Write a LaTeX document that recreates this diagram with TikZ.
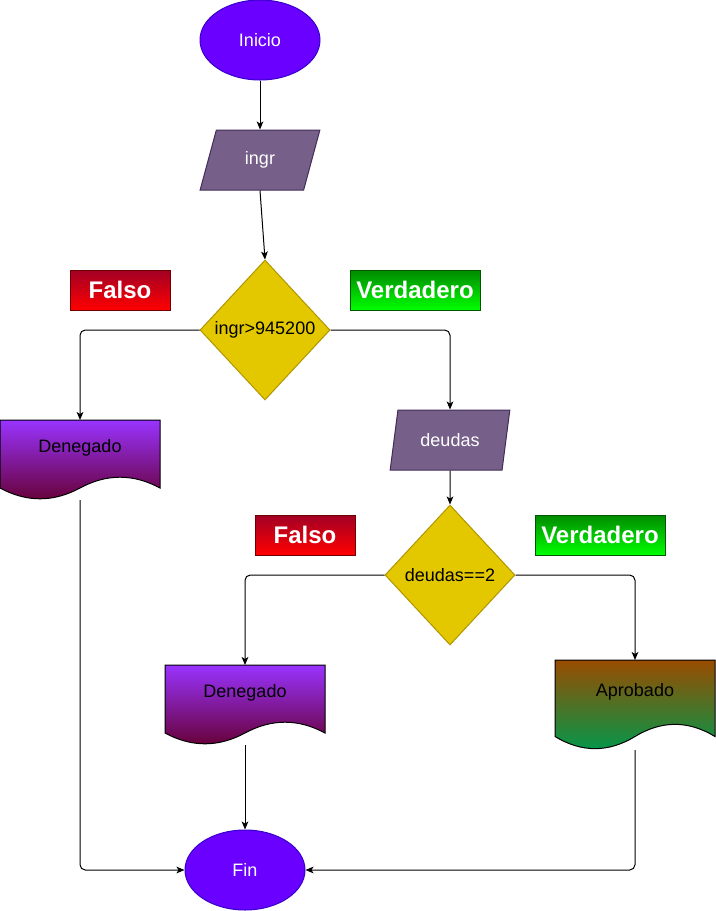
\documentclass[tikz,border=0pt]{standalone}
\usepackage{fontspec}
\setmainfont{Liberation Sans}
\usetikzlibrary{shapes.geometric,arrows.meta}

\definecolor{termfill}{HTML}{6A00FF}
\definecolor{termline}{HTML}{3700CC}
\definecolor{iofill}{HTML}{76608A}
\definecolor{ioline}{HTML}{432D57}
\definecolor{decfill}{HTML}{E3C800}
\definecolor{decline}{HTML}{B09500}
\definecolor{falsetop}{HTML}{A20025}
\definecolor{falsebot}{HTML}{FF0000}
\definecolor{falseline}{HTML}{6F0000}
\definecolor{truetop}{HTML}{008A00}
\definecolor{truebot}{HTML}{00FF00}
\definecolor{trueline}{HTML}{005700}
\definecolor{dentop}{HTML}{9933FF}
\definecolor{denbot}{HTML}{660033}
\definecolor{aprtop}{HTML}{994C00}
\definecolor{aprbot}{HTML}{00994D}

\tikzset{
  terminal/.style={ellipse, fill=termfill, draw=termline, line width=0.75pt, text=white,
    minimum width=90pt, minimum height=60pt, inner sep=0pt, font=\fontsize{13.5}{16}\selectfont},
  inputbox/.style={trapezium, trapezium left angle=71.57, trapezium right angle=108.43,
    trapezium stretches=true, fill=iofill, draw=ioline, line width=0.75pt, text=white,
    minimum width=90pt, minimum height=45pt, inner sep=0pt, font=\fontsize{13.5}{16}\selectfont},
  decision/.style={diamond, fill=decfill, draw=decline, line width=0.75pt,
    minimum width=97.5pt, minimum height=105pt, inner sep=0pt, font=\fontsize{13.5}{16}\selectfont},
  falsebox/.style={rectangle, top color=falsetop, bottom color=falsebot, draw=falseline,
    line width=0.75pt, text=white, minimum width=75pt, minimum height=30pt,
    font=\fontsize{18}{20}\selectfont\bfseries},
  truebox/.style={rectangle, top color=truetop, bottom color=truebot, draw=trueline,
    line width=0.75pt, text=white, minimum width=97.5pt, minimum height=30pt,
    font=\fontsize{18}{20}\selectfont\bfseries},
  docline/.style={draw=black, line width=0.75pt},
  docbox/.style={rectangle, inner sep=0pt, outer sep=0pt},
  doctext/.style={font=\fontsize{13.5}{16}\selectfont, text=black},
  flow/.style={draw=black, line width=0.75pt, rounded corners=4pt,
    -{Stealth[length=6pt,width=5pt,inset=1.5pt]}}
}

% document shape: name, left, top, width, height (px), top colour, bottom colour, text
\newcommand{\docshape}[8]{%
  \begin{scope}[shift={(#2,#3)}]
    \draw[docline, top color=#6, bottom color=#7] (0,0) -- (#4,0) -- (#4,{0.85*#5})
      .. controls ({0.8333*#4},{0.67*#5}) and ({0.6667*#4},{0.67*#5}) .. ({0.5*#4},{0.85*#5})
      .. controls ({0.3333*#4},{1.03*#5}) and ({0.1667*#4},{1.03*#5}) .. (0,{0.85*#5}) -- cycle;
    \node[docbox, minimum width=#4*0.75pt, minimum height=#5*0.75pt] (#1) at ({0.5*#4},{0.5*#5}) {};
    \node[doctext] (#1-txt) at ({0.5*#4},{0.35*#5}) {#8};
  \end{scope}}

\begin{document}
\begin{tikzpicture}[x=0.75pt, y=-0.75pt]
\useasboundingbox (0,0) rectangle (716,911);

\node[terminal] (inicio) at (260,40) {Inicio};
\node[inputbox] (ingr) at (260,160) {ingr};
\node[decision] (d1) at (265,330) {ingr>945200};
\node[falsebox] (f1) at (120,290) {Falso};
\node[truebox] (v1) at (415,290) {Verdadero};

\docshape{den1}{0}{420}{160}{80}{dentop}{denbot}{Denegado}
\node[inputbox] (deudas) at (450,440) {deudas};

\node[decision] (d2) at (450,575) {deudas==2};
\node[falsebox] (f2) at (305,535) {Falso};
\node[truebox] (v2) at (600,535) {Verdadero};

\docshape{den2}{165}{665}{160}{80}{dentop}{denbot}{Denegado}
\docshape{apr}{555}{660}{160}{90}{aprtop}{aprbot}{Aprobado}

\node[terminal] (fin) at (245,870) {Fin};

% connectors
\draw[flow] (inicio) -- (ingr);
\draw[flow] (ingr.south) -- (d1.north);
\draw[flow] (d1.west) -| (den1.north);
\draw[flow] (d1.east) -| (deudas.north);
\draw[flow] (deudas.south) -- (d2.north);
\draw[flow] (d2.west) -| (den2.north);
\draw[flow] (d2.east) -| (apr.north);
\draw[flow] (den2.south) -- (fin.north);
\draw[flow] (den1.south) |- (fin.west);
\draw[flow] (apr.south) |- (fin.east);
\end{tikzpicture}
\end{document}
